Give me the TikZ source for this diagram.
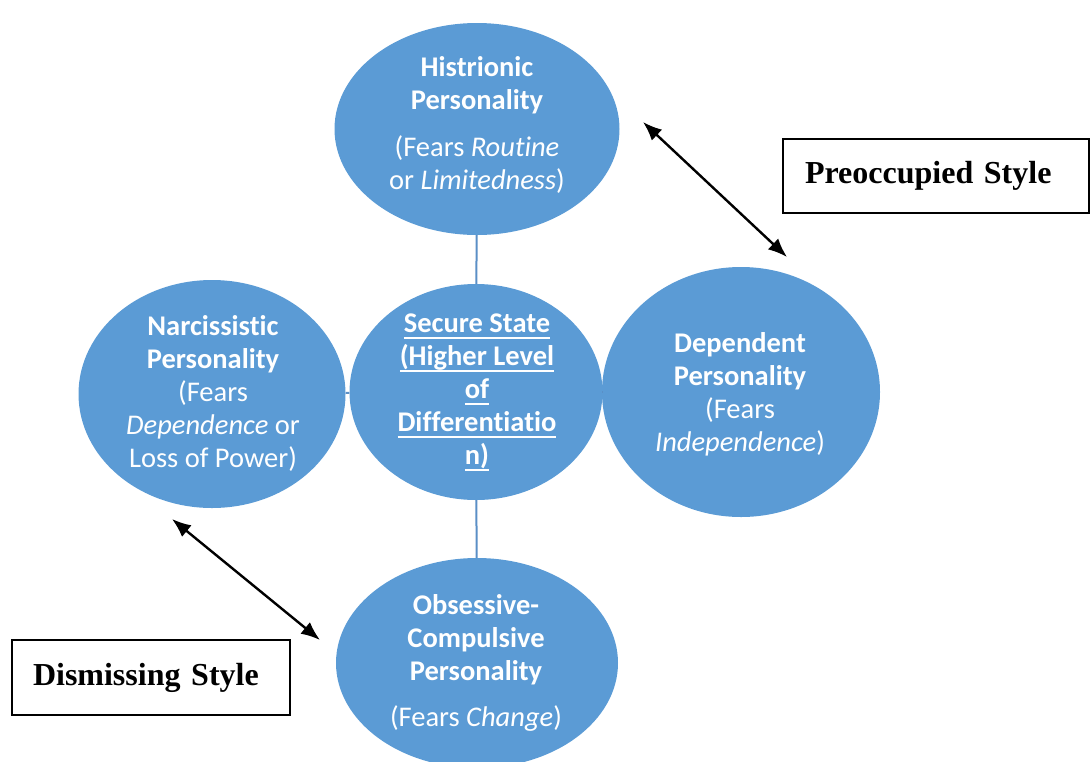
\documentclass[tikz,border=0pt]{standalone}
\usepackage{fontspec}
\setmainfont[RawFeature={-liga}]{Carlito}
\newfontfamily\tnr{Liberation Serif}
\newcommand\myul[1]{\setbox0\hbox{#1}\rlap{\vrule height -4pt depth 5.8pt width \wd0}\box0}
\usetikzlibrary{shapes.geometric,arrows.meta}
\definecolor{bub}{HTML}{5B9BD5}
\definecolor{lnk}{HTML}{5A8FC6}
\begin{document}
\begin{tikzpicture}[x=1pt,y=-1pt,
  bubble/.style={ellipse, fill=bub, draw=none, inner sep=0pt},
  txt/.style={anchor=north, align=center, text=white, inner sep=0pt,
    font=\fontsize{28.5}{33}\selectfont},
  link/.style={draw=lnk, line width=2pt},
  dbl/.style={{Latex[length=19pt,width=15pt]}-{Latex[length=19pt,width=15pt]}, line width=2.4pt},
  stylebox/.style={draw, line width=1.8pt, inner ysep=0pt, align=left,
    font=\tnr\bfseries\fontsize{32}{38}\selectfont}]
\useasboundingbox (0,0) rectangle (1090,761);
\clip (0,0) rectangle (1090,761);

% bubbles
\node[bubble, minimum width=285, minimum height=212] (his) at (477,129) {};
\node[bubble, minimum width=253, minimum height=216] (sec) at (476,392) {};
\node[bubble, minimum width=267, minimum height=228] (nar) at (212,394) {};
\node[bubble, minimum width=278, minimum height=250] (dep) at (741,392) {};
\node[bubble, minimum width=282, minimum height=210] (obs) at (477,663) {};

% texts
\node[txt] (hisT) at (477,56) {\textbf{Histrionic}\\ \textbf{Personality}\\[14pt] (Fears \textit{Routine}\\ or \textit{Limitedness})};
\node[txt, font=\bfseries\fontsize{28.5}{33}\selectfont] (secT) at (477,314) {\myul{Secure State}\\ \myul{(Higher Level}\\ \myul{of}\\ \myul{Differentiatio}\\ \myul{n)}};
\node[txt] (narT) at (213,315) {\textbf{Narcissistic}\\ \textbf{Personality}\\ (Fears\\ \textit{Dependence} or\\ Loss of Power)};
\node[txt] (depT) at (740,332) {\textbf{Dependent}\\ \textbf{Personality}\\ (Fears\\ \textit{Independence})};
\node[txt] (obsT) at (476,594) {\textbf{Obsessive-}\\ \textbf{Compulsive}\\ \textbf{Personality}\\[13pt] (Fears \textit{Change})};

% links
\draw[link] (his) -- (sec);
\draw[link] (sec) -- (obs);
\draw[link] (nar) -- (sec);
\draw[link] (sec) -- (dep);

% style boxes
\node[stylebox, minimum width=306, minimum height=74, inner xsep=22pt, text width=262pt] (pre) at (936,176) {Preoccupied Style};
\node[stylebox, minimum width=278, minimum height=75, inner xsep=21pt, text width=236pt] (dis) at (151,677.5) {Dismissing Style};

% arrows
\coordinate (p1) at (643,122);
\coordinate (p2) at (787,257);
\coordinate (d1) at (172,519);
\coordinate (d2) at (320,640);
\draw[dbl] (p1) -- (p2);
\draw[dbl] (d1) -- (d2);
\end{tikzpicture}
\end{document}
